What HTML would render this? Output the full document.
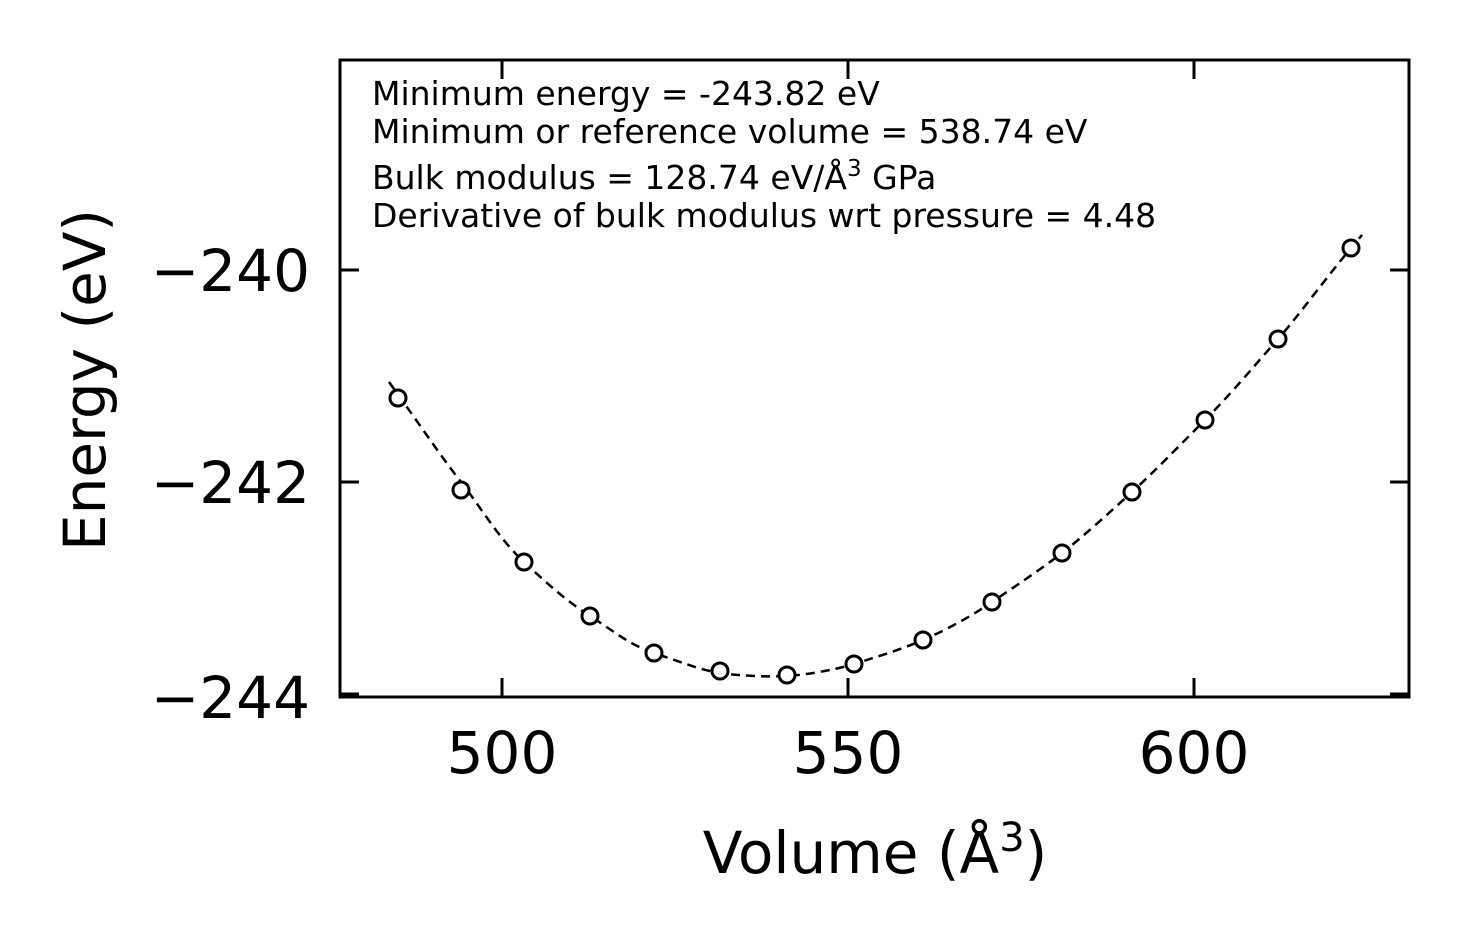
<!DOCTYPE html>
<html><head><meta charset="utf-8"><style>html,body{margin:0;padding:0;background:#fff}</style></head>
<body>
<svg width="1469" height="943" viewBox="0 0 1469 943" xmlns="http://www.w3.org/2000/svg" font-family="DejaVu Sans, sans-serif">
<rect width="1469" height="943" fill="#fff"/>
<g stroke="#000" stroke-width="3" fill="none">
<rect x="340" y="60" width="1069" height="637"/>
<line x1="502" y1="697" x2="502" y2="678"/><line x1="848" y1="697" x2="848" y2="678"/><line x1="1194" y1="697" x2="1194" y2="678"/>
<line x1="502" y1="60" x2="502" y2="79"/><line x1="848" y1="60" x2="848" y2="79"/><line x1="1194" y1="60" x2="1194" y2="79"/>
<line x1="340" y1="270" x2="359" y2="270"/><line x1="340" y1="482" x2="359" y2="482"/><line x1="340" y1="694" x2="359" y2="694"/>
<line x1="1409" y1="270" x2="1390" y2="270"/><line x1="1409" y1="482" x2="1390" y2="482"/><line x1="1409" y1="694" x2="1390" y2="694"/>
</g>
<path d="M389,382 C420,425 440,455 461,482 S500,540 524,562 S565,600 590,616 S630,645 654,653 S700,670 720,673 S770,677 787,676 S835,670 854,664 S900,650 923,640 S970,617 992,602 S1040,570 1062,553 S1110,512 1132,492 S1180,445 1205,420 S1255,365 1278,339 S1330,272 1362,235" stroke="#000" stroke-width="2.5" fill="none" stroke-dasharray="9,6"/>
<g stroke="#000" stroke-width="3" fill="#fff">
<circle cx="398" cy="398" r="8"/><circle cx="461" cy="490" r="8"/><circle cx="524" cy="562" r="8"/><circle cx="590" cy="616" r="8"/><circle cx="654" cy="653" r="8"/><circle cx="720" cy="671" r="8"/><circle cx="787" cy="675" r="8"/><circle cx="854" cy="664" r="8"/><circle cx="923" cy="640" r="8"/><circle cx="992" cy="602" r="8"/><circle cx="1062" cy="553" r="8"/><circle cx="1132" cy="492" r="8"/><circle cx="1205" cy="420" r="8"/><circle cx="1278" cy="339" r="8"/><circle cx="1351" cy="248" r="8"/>
</g>
<g font-size="33" fill="#000">
<text x="372" y="105">Minimum energy = -243.82 eV</text>
<text x="372" y="143">Minimum or reference volume = 538.74 eV</text>
<text x="372" y="189">Bulk modulus = 128.74 eV/Å<tspan font-size="23" dy="-13">3</tspan><tspan dy="13"> GPa</tspan></text>
<text x="372" y="227">Derivative of bulk modulus wrt pressure = 4.48</text>
</g>
<g font-size="58" fill="#000">
<text x="310" y="291" text-anchor="end">−240</text>
<text x="310" y="503" text-anchor="end">−242</text>
<text x="310" y="718" text-anchor="end">−244</text>
<text x="502" y="773" text-anchor="middle">500</text>
<text x="848" y="773" text-anchor="middle">550</text>
<text x="1194" y="773" text-anchor="middle">600</text>
<text x="875" y="873" text-anchor="middle">Volume (Å<tspan font-size="40" dy="-22">3</tspan><tspan dy="22">)</tspan></text>
<text transform="translate(105,380) rotate(-90)" text-anchor="middle">Energy (eV)</text>
</g>
</svg>
</body></html>
